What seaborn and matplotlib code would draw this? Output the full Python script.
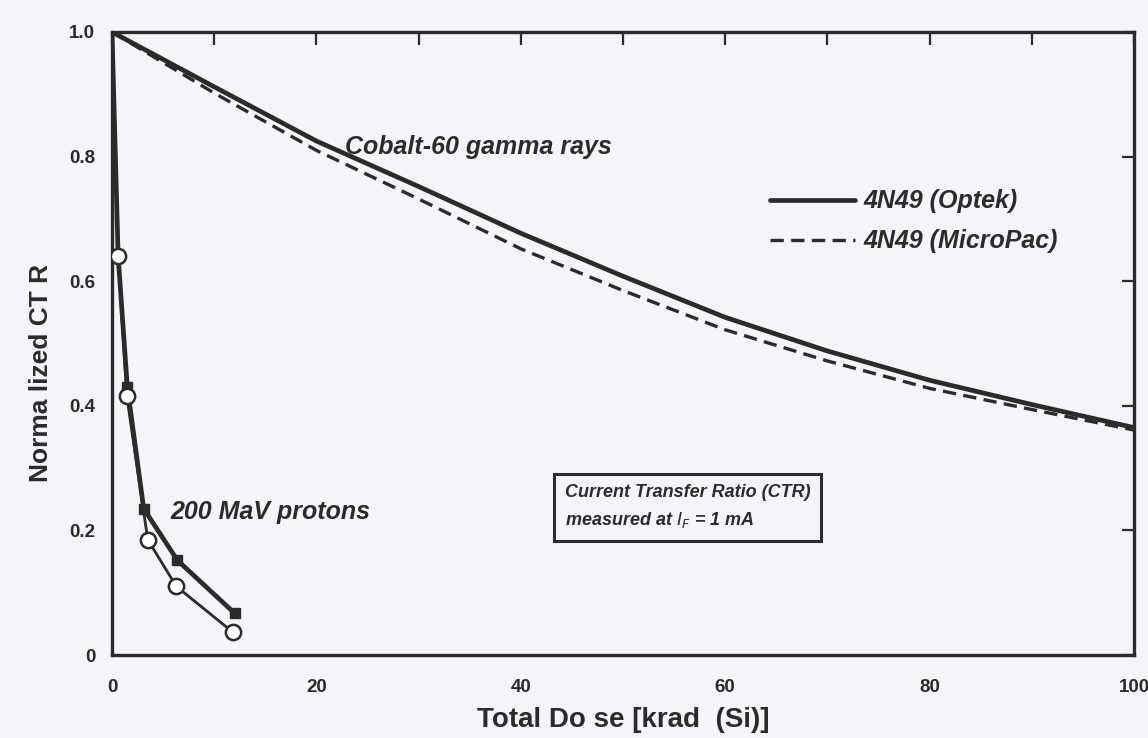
import matplotlib
matplotlib.use("Agg")
import matplotlib.pyplot as plt
import seaborn as sns
import numpy as np
import pandas as pd
from matplotlib.ticker import MultipleLocator, FixedLocator

# ---- data ----
cobalt_dose = [0, 10, 20, 30, 40, 50, 60, 70, 80, 90, 100]
cobalt_optek = [1.0, 0.912, 0.825, 0.752, 0.677, 0.608, 0.542, 0.488, 0.441, 0.402, 0.365]
cobalt_micropac = [1.0, 0.902, 0.810, 0.732, 0.652, 0.585, 0.522, 0.472, 0.428, 0.394, 0.361]

proton_optek_dose = [0, 0.6, 1.5, 3.1, 6.4, 12.0]
proton_optek = [1.0, 0.64, 0.43, 0.235, 0.152, 0.067]
proton_optek_mark_dose = [1.5, 3.1, 6.4, 12.0]
proton_optek_mark = [0.43, 0.235, 0.152, 0.067]

proton_micropac_dose = [0, 0.6, 1.45, 3.5, 6.3, 11.8]
proton_micropac = [1.0, 0.64, 0.415, 0.185, 0.110, 0.037]

x_ticks = [0, 20, 40, 60, 80, 100]
x_ticklabels = ["0", "20", "40", "60", "80", "100"]
y_ticks = [0, 0.2, 0.4, 0.6, 0.8, 1.0]
y_ticklabels = ["0", "0.2", "0.4", "0.6", "0.8", "1.0"]

sns.set_style("white")
plt.rcParams['font.family'] = ['Liberation Sans', 'DejaVu Sans']

bg = "#f3f5f9"
ink = "#2b2b2b"
dash = (0, (4, 2.2))

fig = plt.figure(figsize=(11.48, 7.38), dpi=100, facecolor=bg)
ax = fig.add_axes([112 / 1148, 83 / 738, (1134 - 112) / 1148, (655 - 32) / 738])
ax.set_facecolor(bg)

sns.lineplot(x=cobalt_dose, y=cobalt_optek, ax=ax, color=ink, lw=3.4, estimator=None, sort=False)
sns.lineplot(x=cobalt_dose, y=cobalt_micropac, ax=ax, color=ink, lw=2.4, estimator=None, sort=False,
             linestyle=dash)
sns.lineplot(x=proton_optek_dose, y=proton_optek, ax=ax, color=ink, lw=3.4, estimator=None, sort=False)
sns.lineplot(x=proton_micropac_dose, y=proton_micropac, ax=ax, color=ink, lw=2.0, estimator=None, sort=False)
ax.plot(proton_optek_mark_dose, proton_optek_mark, linestyle="none", marker="s", ms=7.5,
        mfc=ink, mec=ink, zorder=5)
ax.plot(proton_micropac_dose[1:], proton_micropac[1:], linestyle="none", marker="o", ms=11,
        mfc="white", mec=ink, mew=1.8, zorder=6)

# legend (drawn manually as in the original)
ax.plot([64.4, 72.7], [0.73, 0.73], color=ink, lw=3.4)
ax.plot([64.4, 72.7], [0.666, 0.666], color=ink, lw=2.4, linestyle=dash)
lab_kw = dict(fontsize=18, fontweight="bold", style="italic", color=ink, va="center", ha="left")
ax.text(73.5, 0.728, "4N49 (Optek)", **lab_kw)
ax.text(73.5, 0.664, "4N49 (MicroPac)", **lab_kw)

ax.text(22.8, 0.815, "Cobalt-60 gamma rays", **lab_kw)
ax.text(5.7, 0.230, "200 MaV protons", **lab_kw)
ax.text(44.3, 0.238, "Current Transfer Ratio (CTR)\nmeasured at $\\mathbf{\\mathit{I_F}}$ = 1 mA",
        fontsize=13, fontweight="bold", style="italic", color=ink, va="center", ha="left",
        linespacing=1.6,
        bbox=dict(boxstyle="square,pad=0.6", fc=bg, ec=ink, lw=2.2))

ax.set_xlim(0, 100)
ax.set_ylim(0, 1.0)
ax.xaxis.set_major_locator(FixedLocator(x_ticks))
ax.set_xticklabels(x_ticklabels)
ax.xaxis.set_minor_locator(MultipleLocator(10))
ax.yaxis.set_major_locator(FixedLocator(y_ticks))
ax.set_yticklabels(y_ticklabels)

ax.tick_params(axis="both", which="both", direction="in", top=True, right=True,
               color=ink, width=1.6, length=9, labelsize=13.5, labelcolor=ink)
ax.tick_params(axis="x", pad=17)
ax.tick_params(axis="y", pad=12)
for lab in ax.get_xticklabels() + ax.get_yticklabels():
    lab.set_fontweight("bold")

for s in ax.spines.values():
    s.set_color(ink)
    s.set_linewidth(2.4)

ax.set_xlabel("Total Do se [krad  (Si)]", fontsize=20, fontweight="bold", color=ink, labelpad=8)
ax.set_ylabel("Norma lized CT R", fontsize=19, fontweight="bold", color=ink)
ax.yaxis.set_label_coords(-0.058, 0.453)

fig.savefig("out.png", dpi=100, facecolor=bg)
